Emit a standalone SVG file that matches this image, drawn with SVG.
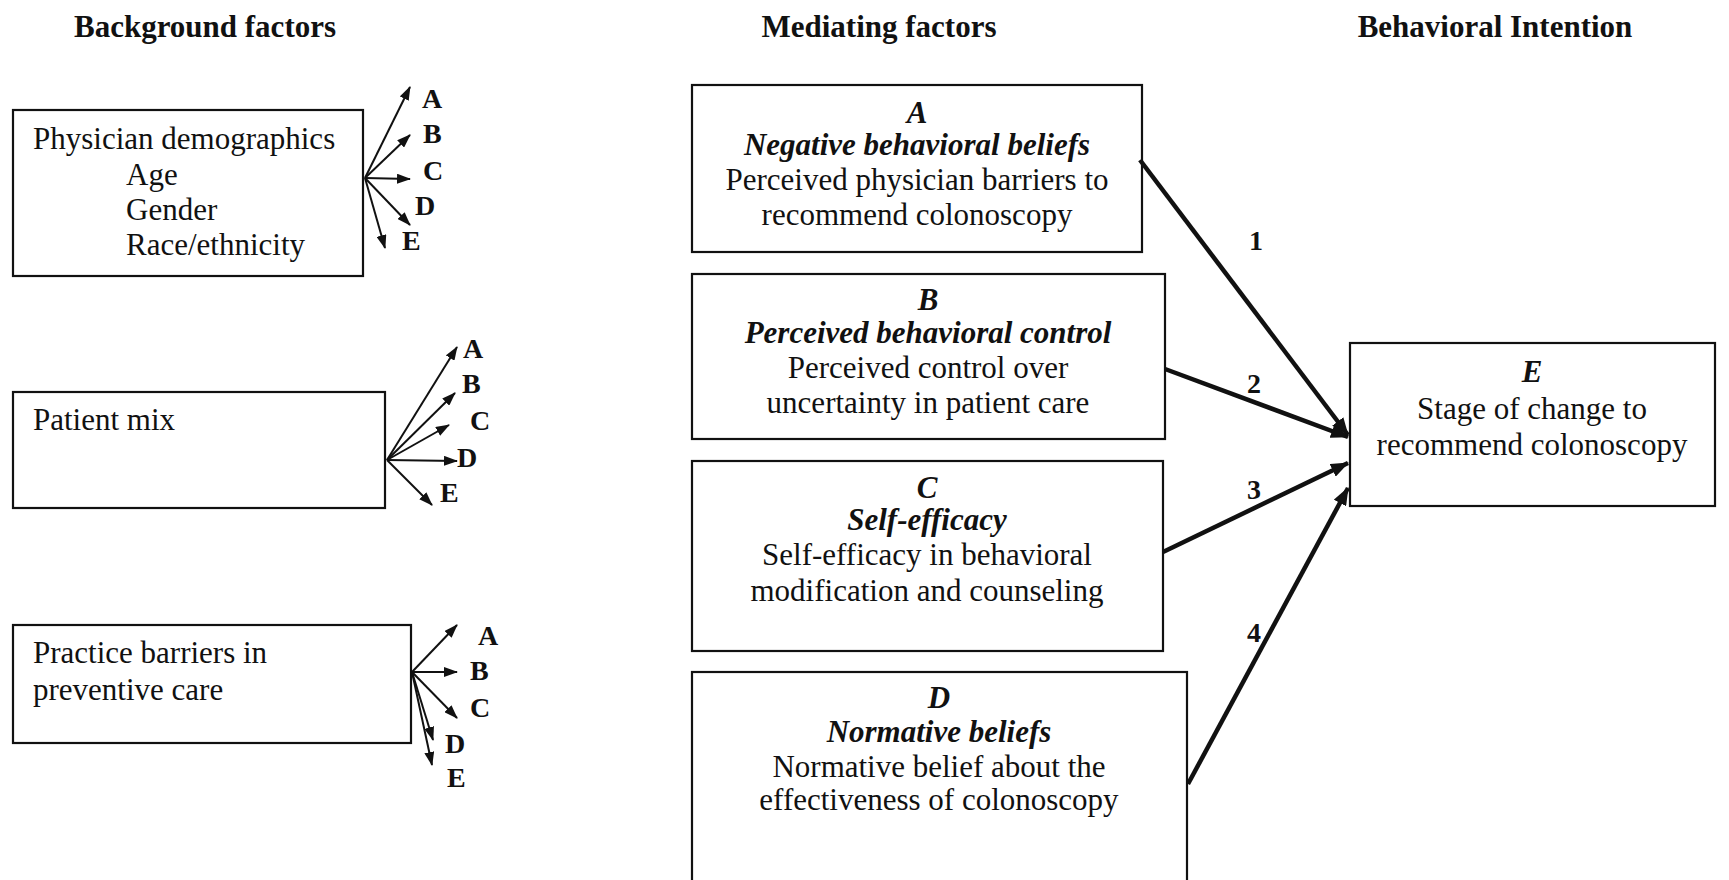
<svg xmlns="http://www.w3.org/2000/svg" width="1729" height="880" viewBox="0 0 1729 880">
<style>
text{font-family:"Liberation Serif","Times New Roman",serif;fill:#111;}
.title{font-size:31px;font-weight:bold;text-anchor:middle;}
.body{font-size:31px;}
.c{text-anchor:middle;}
.bi{font-weight:bold;font-style:italic;}
.lbl{font-size:28px;font-weight:bold;}
.box{fill:#fff;stroke:#111;stroke-width:2.2;}
.sa{stroke:#111;stroke-width:2;fill:none;marker-end:url(#sm);}
.ta{stroke:#111;stroke-width:4.5;fill:none;marker-end:url(#lg);}
</style>
<defs>
<marker id="sm" viewBox="0 0 14 10" refX="13" refY="5" markerWidth="14" markerHeight="10" markerUnits="userSpaceOnUse" orient="auto"><path d="M0,0 L14,5 L0,10 z" fill="#111"/></marker>
<marker id="lg" viewBox="0 0 18 14" refX="17" refY="7" markerWidth="18" markerHeight="14" markerUnits="userSpaceOnUse" orient="auto"><path d="M0,0 L18,7 L0,14 z" fill="#111"/></marker>
</defs>
<rect width="1729" height="880" fill="#fff"/>
<g id="titles">
<text class="title" x="205" y="37">Background factors</text>
<text class="title" x="879" y="37">Mediating factors</text>
<text class="title" x="1495" y="37">Behavioral Intention</text>
</g>
<g id="node-physician">
<rect class="box" x="13" y="110" width="350" height="166"/>
<text class="body" x="33" y="149">Physician demographics</text>
<text class="body" x="126" y="185">Age</text>
<text class="body" x="126" y="220">Gender</text>
<text class="body" x="126" y="255">Race/ethnicity</text>
</g>
<g id="node-patientmix">
<rect class="box" x="13" y="392" width="372" height="116"/>
<text class="body" x="33" y="430">Patient mix</text>
</g>
<g id="node-practice">
<rect class="box" x="13" y="625" width="398" height="118"/>
<text class="body" x="33" y="663">Practice barriers in</text>
<text class="body" x="33" y="700">preventive care</text>
</g>
<g id="node-A">
<rect class="box" x="692" y="85" width="450" height="167"/>
<text class="body c bi" x="917" y="123">A</text>
<text class="body c bi" x="917" y="155">Negative behavioral beliefs</text>
<text class="body c" x="917" y="190">Perceived physician barriers to</text>
<text class="body c" x="917" y="225">recommend colonoscopy</text>
</g>
<g id="node-B">
<rect class="box" x="692" y="274" width="473" height="165"/>
<text class="body c bi" x="928" y="310">B</text>
<text class="body c bi" x="928" y="343">Perceived behavioral control</text>
<text class="body c" x="928" y="378">Perceived control over</text>
<text class="body c" x="928" y="413">uncertainty in patient care</text>
</g>
<g id="node-C">
<rect class="box" x="692" y="461" width="471" height="190"/>
<text class="body c bi" x="927" y="498">C</text>
<text class="body c bi" x="927" y="530">Self-efficacy</text>
<text class="body c" x="927" y="565">Self-efficacy in behavioral</text>
<text class="body c" x="927" y="601">modification and counseling</text>
</g>
<g id="node-D">
<rect class="box" x="692" y="672" width="495" height="240"/>
<text class="body c bi" x="939" y="708">D</text>
<text class="body c bi" x="939" y="742">Normative beliefs</text>
<text class="body c" x="939" y="777">Normative belief about the</text>
<text class="body c" x="939" y="810">effectiveness of colonoscopy</text>
</g>
<g id="node-E">
<rect class="box" x="1350" y="343" width="365" height="163"/>
<text class="body c bi" x="1532" y="382">E</text>
<text class="body c" x="1532" y="419">Stage of change to</text>
<text class="body c" x="1532" y="455">recommend colonoscopy</text>
</g>
<g id="connectors">
<line class="sa" x1="365" y1="178" x2="410" y2="87"/>
<line class="sa" x1="365" y1="178" x2="410" y2="135"/>
<line class="sa" x1="365" y1="178" x2="410" y2="179"/>
<line class="sa" x1="365" y1="178" x2="410" y2="225"/>
<line class="sa" x1="365" y1="178" x2="385" y2="248"/>
<line class="sa" x1="387" y1="460" x2="457" y2="347"/>
<line class="sa" x1="387" y1="460" x2="455" y2="393"/>
<line class="sa" x1="387" y1="460" x2="449" y2="425"/>
<line class="sa" x1="387" y1="460" x2="457" y2="461"/>
<line class="sa" x1="387" y1="460" x2="432" y2="505"/>
<line class="sa" x1="412" y1="672" x2="457" y2="625"/>
<line class="sa" x1="412" y1="672" x2="457" y2="672"/>
<line class="sa" x1="412" y1="672" x2="457" y2="718"/>
<line class="sa" x1="412" y1="672" x2="433" y2="740"/>
<line class="sa" x1="412" y1="672" x2="432" y2="765"/>
<line class="ta" x1="1140" y1="160" x2="1348" y2="435"/>
<line class="ta" x1="1165" y1="369" x2="1348" y2="437"/>
<line class="ta" x1="1163" y1="552" x2="1348" y2="463"/>
<line class="ta" x1="1188" y1="784" x2="1348" y2="488"/>
</g>
<g id="labels">
<text class="lbl" x="422" y="108">A</text>
<text class="lbl" x="423" y="143">B</text>
<text class="lbl" x="423" y="180">C</text>
<text class="lbl" x="415" y="215">D</text>
<text class="lbl" x="402" y="250">E</text>
<text class="lbl" x="463" y="358">A</text>
<text class="lbl" x="462" y="393">B</text>
<text class="lbl" x="470" y="430">C</text>
<text class="lbl" x="457" y="467">D</text>
<text class="lbl" x="440" y="502">E</text>
<text class="lbl" x="478" y="645">A</text>
<text class="lbl" x="470" y="680">B</text>
<text class="lbl" x="470" y="717">C</text>
<text class="lbl" x="445" y="753">D</text>
<text class="lbl" x="447" y="787">E</text>
<text class="lbl" x="1249" y="250">1</text>
<text class="lbl" x="1247" y="393">2</text>
<text class="lbl" x="1247" y="499">3</text>
<text class="lbl" x="1247" y="642">4</text>
</g>
</svg>
